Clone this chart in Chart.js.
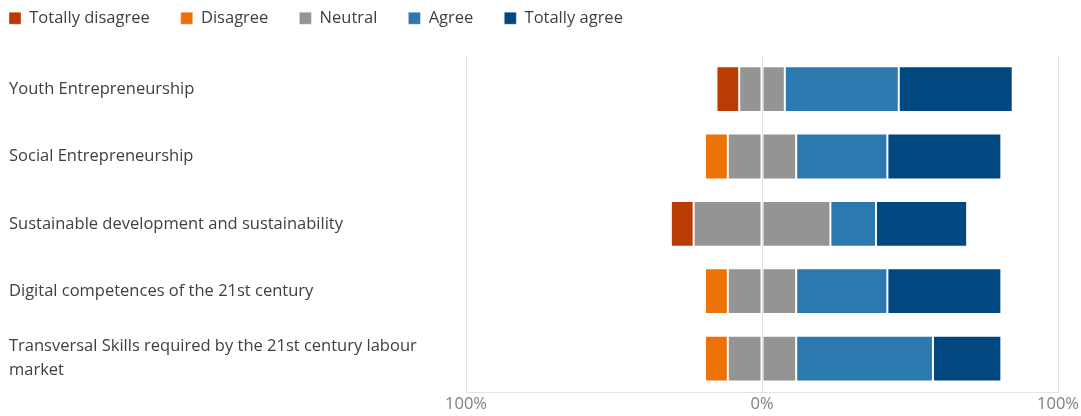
<!DOCTYPE html>
<html>
<head>
<meta charset="utf-8">
<script src="https://cdn.jsdelivr.net/npm/chart.js@4"></script>
<style>
    html, body { margin: 0; padding: 0; background: #ffffff; }
    #wrap { width: 1081px; height: 416px; }
</style>
</head>
<body>
<div id="wrap"><canvas id="likertChart" width="1081" height="416"></canvas></div>
<script>
// Survey topics (y axis)
var topics = [
    'Youth Entrepreneurship',
    'Social Entrepreneurship',
    'Sustainable development and sustainability',
    'Digital competences of the 21st century',
    ['Transversal Skills required by the 21st century labour', 'market']
];

// Share of answers per topic, in %
var totallyDisagree = [7.7, 0, 7.7, 0, 0];
var disagree        = [0, 7.7, 0, 7.7, 7.7];
var neutral         = [15.4, 23.1, 46.2, 23.1, 23.1];
var agree           = [38.5, 30.8, 15.4, 30.8, 46.2];
var totallyAgree    = [38.5, 38.5, 30.8, 38.5, 23.1];

// x axis ticks
var tickValues = [-100, 0, 100];

var colors = {
    totallyDisagree: '#bb3c02',
    disagree: '#ec7207',
    neutral: '#949494',
    agree: '#2c79b0',
    totallyAgree: '#00487f'
};

var legendOrder = ['Totally disagree', 'Disagree', 'Neutral', 'Agree', 'Totally agree'];
var legendPad = 31;

// negative side values (drawn left of zero)
function toLeft(arr) {
    return arr.map(function (v) { return -v; });
}
function halfOf(arr) {
    return arr.map(function (v) { return v / 2; });
}

function barSet(label, data, color) {
    return {
        label: label,
        data: data,
        backgroundColor: color,
        borderColor: 'rgba(255,255,255,0.3)',
        borderWidth: 1,
        borderSkipped: false,
        categoryPercentage: 0.8,
        barPercentage: 0.85,
        stack: 'likert'
    };
}

// move the legend up to the top left corner
var legendShift = {
    id: 'legendShift',
    afterLayout: function (chart) {
        if (chart.legend) {
            chart.legend.left = 9 - legendPad;
            chart.legend.top = -21;
        }
    }
};

var ctx = document.getElementById('likertChart').getContext('2d');
new Chart(ctx, {
    type: 'bar',
    data: {
        labels: topics,
        datasets: [
            // left side, stacked outward from zero
            barSet('Neutral', toLeft(halfOf(neutral)), colors.neutral),
            barSet('Disagree', toLeft(disagree), colors.disagree),
            barSet('Totally disagree', toLeft(totallyDisagree), colors.totallyDisagree),
            // right side
            barSet('Neutral ', halfOf(neutral), colors.neutral),
            barSet('Agree', agree, colors.agree),
            barSet('Totally agree', totallyAgree, colors.totallyAgree)
        ]
    },
    plugins: [legendShift],
    options: {
        indexAxis: 'y',
        responsive: false,
        animation: false,
        layout: {
            padding: {left: 9, right: 2, top: -2, bottom: 0}
        },
        plugins: {
            legend: {
                position: 'top',
                align: 'start',
                labels: {
                    boxWidth: 12,
                    boxHeight: 12,
                    padding: legendPad,
                    color: '#404040',
                    font: {size: 16.5, family: 'Open Sans'},
                    filter: function (item) {
                        return item.text !== 'Neutral ';
                    },
                    sort: function (a, b) {
                        return legendOrder.indexOf(a.text) - legendOrder.indexOf(b.text);
                    }
                }
            },
            tooltip: {enabled: false}
        },
        scales: {
            x: {
                stacked: true,
                min: -100,
                max: 100,
                afterBuildTicks: function (scale) {
                    scale.ticks = tickValues.map(function (v) { return {value: v}; });
                },
                grid: {color: '#e3e3e3', drawTicks: false},
                border: {color: '#e3e3e3'},
                ticks: {
                    color: '#808080',
                    padding: 2,
                    font: {size: 16.5, family: 'Open Sans'},
                    callback: function (value) {
                        return Math.abs(value) + '%';
                    }
                }
            },
            y: {
                stacked: true,
                grid: {display: false},
                border: {display: false},
                afterFit: function (scale) {
                    scale.width = 457;
                },
                ticks: {
                    crossAlign: 'far',
                    color: '#404040',
                    font: {size: 16.5, family: 'Open Sans', lineHeight: 1.45}
                }
            }
        }
    }
});
</script>
</body>
</html>
